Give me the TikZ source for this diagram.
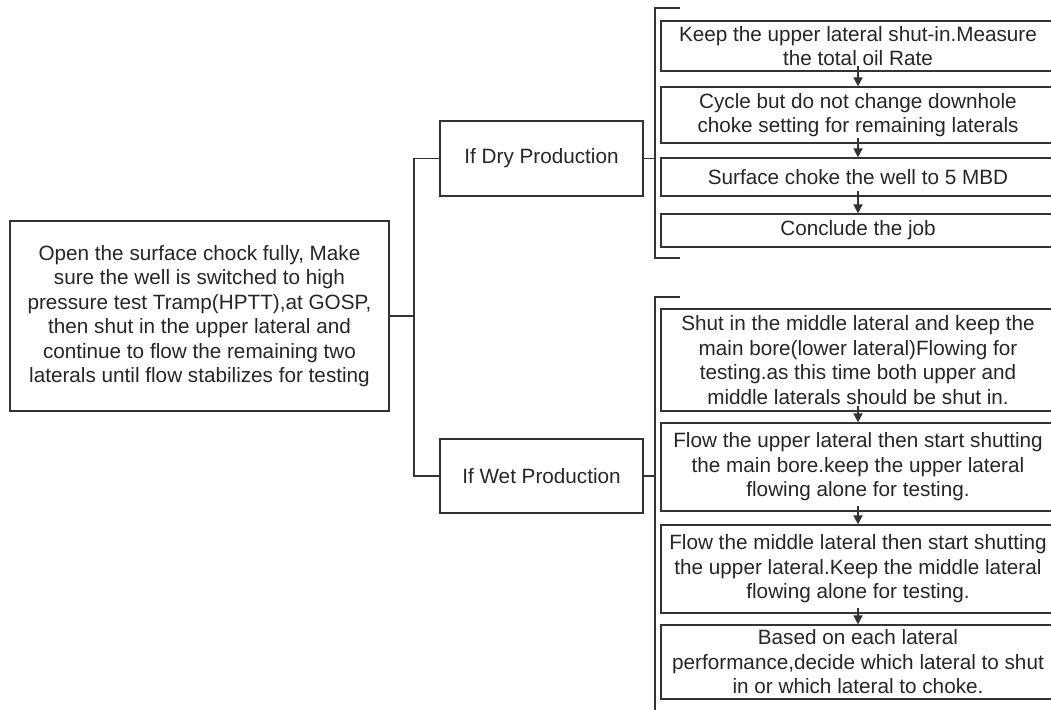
\documentclass[tikz,border=0pt]{standalone}
\usepackage{fontspec}
\setmainfont{Liberation Sans}
\usetikzlibrary{arrows.meta}

\tikzset{
	BoxStyle/.style = {draw=black!80, line width=1.2pt, inner sep=0pt, align=center,
		text=black!85, font=\fontsize{20.7}{24.5}\selectfont},
	StepStyle/.style = {BoxStyle, minimum width=394pt},
	EdgeStyle/.style = {draw=black!80, line width=1.2pt},
	FlowStyle/.style = {EdgeStyle, line width=1.6pt, -{Triangle[length=9pt,width=9pt]}}
}

\begin{document}
\begin{tikzpicture}[x=1pt,y=-1pt]
	\useasboundingbox (0,0) rectangle (1051,709);
	\fill[white] (0,0) rectangle (1051,709);
	% start box and the two cases
	\node[BoxStyle, minimum width=379pt, minimum height=190pt] (open) at (199.5,316)
		{Open the surface chock fully, Make\\ sure the well is switched to high\\ pressure test Tramp(HPTT),at GOSP,\\ then shut in the upper lateral and\\ continue to flow the remaining two\\ laterals until flow stabilizes for testing};
	\node[BoxStyle, minimum width=203pt, minimum height=75pt] (dry) at (541.5,158.5) {If Dry Production};
	\node[BoxStyle, minimum width=203pt, minimum height=74pt] (wet) at (541.5,476) {If Wet Production};
	\coordinate (split) at (414,316);
	\draw[EdgeStyle] (open.east) -- (split);
	\draw[EdgeStyle] (dry.west) -| (split) |- (wet.west);
	% brackets
	\coordinate (drytop) at (680,8);
	\coordinate (drybot) at (680,258);
	\coordinate (wettop) at (680,297);
	\coordinate (wetbot) at (655,720);
	\coordinate (bar) at (655,0);
	\draw[EdgeStyle] (drytop) -| ([xshift=-25pt]drybot) -- (drybot);
	\draw[EdgeStyle] (wettop) -| (wetbot);
	\draw[EdgeStyle] (dry.east) -- (dry.east -| bar);
	\draw[EdgeStyle] (wet.east) -- (wet.east -| bar);
	% dry steps
	\node[StepStyle, minimum height=50pt] (d1) at (858,46)
		{Keep the upper lateral shut-in.Measure\\ the total oil Rate};
	\node[StepStyle, minimum height=56pt] (d2) at (858,115)
		{Cycle but do not change downhole\\ choke setting for remaining laterals};
	\node[StepStyle, minimum height=38pt] (d3) at (858,177) {Surface choke the well to 5 MBD};
	\node[StepStyle, minimum height=33pt] (d4) at (858,230.5) {Conclude the job};
	% wet steps
	\node[StepStyle, minimum height=102pt] (w1) at (858,360)
		{Shut in the middle lateral and keep the\\ main bore(lower lateral)Flowing for\\ testing.as this time both upper and\\ middle laterals should be shut in.};
	\node[StepStyle, minimum height=88pt] (w2) at (858,467)
		{Flow the upper lateral then start shutting\\ the main bore.keep the upper lateral\\ flowing alone for testing.};
	\node[StepStyle, minimum height=88pt] (w3) at (858,569)
		{Flow the middle lateral then start shutting\\ the upper lateral.Keep the middle lateral\\ flowing alone for testing.};
	\node[StepStyle, minimum height=74pt] (w4) at (858,662)
		{Based on each lateral\\ performance,decide which lateral to shut\\ in or which lateral to choke.};
	\foreach \a/\b in {d1/d2,d2/d3,d3/d4,w1/w2,w2/w3,w3/w4}
		\draw[FlowStyle] ([yshift=6pt]\a.south) -- (\b.north);
\end{tikzpicture}
\end{document}
